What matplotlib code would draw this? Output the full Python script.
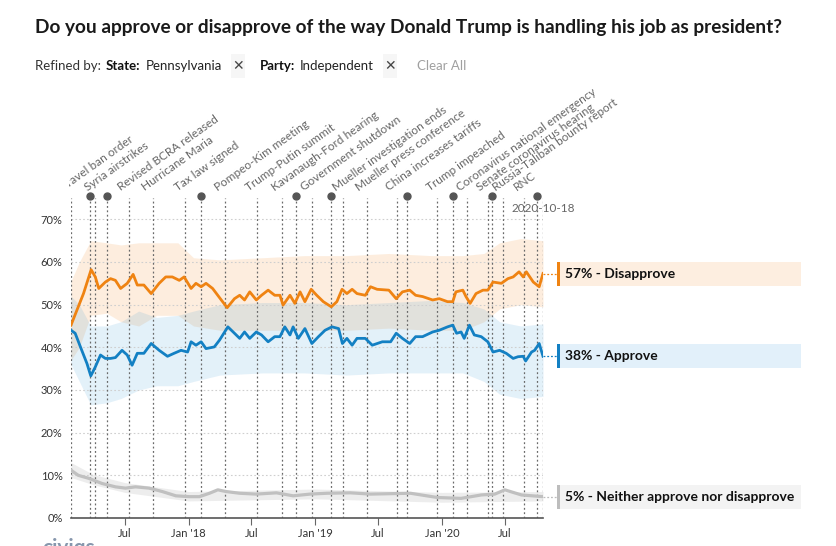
import matplotlib
matplotlib.use("Agg")
import matplotlib.pyplot as plt
import pandas as pd
from matplotlib.patches import Rectangle
from matplotlib.transforms import Bbox

# ---- data ----
dis_dates = ["2017-01-27", "2017-02-13", "2017-03-04", "2017-03-26", "2017-04-07", "2017-04-17",
             "2017-05-06", "2017-05-21", "2017-06-04", "2017-06-19", "2017-07-08", "2017-07-25",
             "2017-08-06", "2017-08-25", "2017-09-15", "2017-10-08", "2017-10-27", "2017-11-15",
             "2017-12-05", "2017-12-19", "2018-01-08", "2018-01-22", "2018-02-06", "2018-02-20",
             "2018-03-11", "2018-04-05", "2018-04-22", "2018-05-13", "2018-05-28", "2018-06-11",
             "2018-06-26", "2018-07-15", "2018-07-30", "2018-08-18", "2018-09-06", "2018-09-21",
             "2018-09-30", "2018-10-20", "2018-11-03", "2018-11-18", "2018-12-02", "2018-12-20",
             "2019-01-05", "2019-01-24", "2019-02-16", "2019-03-04", "2019-03-19", "2019-04-02",
             "2019-04-17", "2019-05-01", "2019-05-25", "2019-06-09", "2019-06-28", "2019-08-01",
             "2019-08-22", "2019-09-09", "2019-09-30", "2019-10-17", "2019-11-06", "2019-12-05",
             "2019-12-24", "2020-01-17", "2020-02-01", "2020-02-10", "2020-03-01", "2020-03-10",
             "2020-03-22", "2020-04-08", "2020-04-28", "2020-05-12", "2020-05-27", "2020-06-20",
             "2020-07-09", "2020-07-24", "2020-08-10", "2020-08-22", "2020-08-31", "2020-09-20",
             "2020-10-07", "2020-10-18"]
dis_vals = [45.2, 48.7, 52.6, 58.2, 56.5, 53.8, 55.3, 56.1, 55.7, 53.8, 55.0, 57.1,
            54.6, 54.6, 52.6, 55.0, 56.5, 56.5, 55.7, 56.5, 53.8, 55.0, 54.2, 55.0,
            53.8, 51.1, 49.3, 51.4, 52.2, 51.1, 53.0, 51.1, 52.2, 53.4, 52.2, 52.2,
            49.9, 52.2, 50.3, 53.0, 50.7, 53.6, 52.2, 50.7, 49.5, 50.7, 53.6, 52.6,
            53.6, 52.6, 52.2, 54.2, 53.6, 53.4, 51.4, 53.0, 53.4, 52.2, 51.9, 51.1,
            51.4, 50.7, 50.7, 53.0, 53.4, 51.9, 50.3, 52.6, 53.4, 53.4, 55.3, 55.0,
            56.1, 56.5, 57.7, 56.5, 57.7, 55.3, 54.2, 57.3]

app_dates = ["2017-01-27", "2017-02-08", "2017-02-27", "2017-03-14", "2017-03-25", "2017-04-07",
             "2017-04-22", "2017-05-06", "2017-05-21", "2017-06-04", "2017-06-23", "2017-07-08",
             "2017-07-22", "2017-08-06", "2017-08-25", "2017-09-15", "2017-10-08", "2017-11-01",
             "2017-11-20", "2017-12-10", "2017-12-29", "2018-01-08", "2018-01-22", "2018-02-06",
             "2018-02-20", "2018-03-16", "2018-03-31", "2018-04-24", "2018-05-13", "2018-05-28",
             "2018-06-11", "2018-06-26", "2018-07-15", "2018-07-30", "2018-08-18", "2018-09-06",
             "2018-09-21", "2018-10-05", "2018-10-20", "2018-10-29", "2018-11-13", "2018-12-02",
             "2018-12-22", "2019-01-10", "2019-01-29", "2019-02-18", "2019-03-09", "2019-03-20",
             "2019-04-02", "2019-04-17", "2019-05-01", "2019-05-25", "2019-06-14", "2019-07-13",
             "2019-08-06", "2019-08-22", "2019-09-09", "2019-09-30", "2019-10-17", "2019-11-06",
             "2019-12-05", "2019-12-24", "2020-01-17", "2020-02-01", "2020-02-12", "2020-02-25",
             "2020-03-05", "2020-03-20", "2020-04-03", "2020-04-23", "2020-05-12", "2020-05-27",
             "2020-06-15", "2020-07-04", "2020-07-24", "2020-08-07", "2020-08-22", "2020-08-29",
             "2020-09-15", "2020-09-24", "2020-10-07", "2020-10-18"]
app_vals = [44.0, 43.3, 39.3, 36.2, 33.3, 35.4, 38.2, 37.4, 37.4, 37.6, 39.3, 38.2,
            35.8, 38.6, 38.6, 40.9, 39.3, 37.9, 38.6, 39.3, 38.9, 41.3, 40.5, 41.3,
            39.7, 40.1, 41.7, 44.8, 43.3, 42.1, 43.6, 42.1, 43.6, 42.9, 41.3, 42.5,
            42.5, 44.8, 42.9, 44.8, 42.1, 44.4, 40.9, 42.5, 44.0, 44.8, 44.4, 40.9,
            42.1, 40.5, 42.1, 42.1, 40.5, 41.3, 41.3, 43.3, 42.1, 40.9, 42.5, 42.5,
            43.6, 44.0, 44.8, 45.2, 43.3, 43.6, 42.1, 45.2, 42.9, 42.5, 41.3, 38.9,
            39.3, 38.6, 37.4, 37.8, 37.9, 36.8, 38.9, 39.3, 40.9, 37.9]

nei_dates = ["2017-01-27", "2017-02-17", "2017-03-19", "2017-04-26", "2017-06-04", "2017-07-03",
             "2017-08-01", "2017-09-09", "2017-10-17", "2017-11-25", "2018-01-03", "2018-02-01",
             "2018-03-02", "2018-03-26", "2018-04-19", "2018-05-28", "2018-07-15", "2018-09-11",
             "2018-10-29", "2018-12-17", "2019-02-03", "2019-04-12", "2019-06-09", "2019-10-02",
             "2019-12-19", "2020-02-25", "2020-04-23", "2020-06-01", "2020-06-30", "2020-08-17",
             "2020-10-18"]
nei_vals = [11.2, 10.0, 9.3, 8.1, 7.3, 7.0, 7.3, 7.0, 6.2, 5.2, 5.0, 5.0,
            5.8, 6.6, 6.2, 5.8, 5.6, 5.9, 5.2, 5.6, 5.8, 5.9, 5.6, 5.8,
            4.8, 4.6, 5.4, 5.6, 6.6, 5.4, 5.0]

# uncertainty bands (sparse reading of the shaded edges)
band_dates = ["2017-01-27", "2017-02-20", "2017-03-25", "2017-05-10", "2017-06-20", "2017-08-10",
              "2017-10-01", "2017-12-01", "2018-01-15", "2018-04-01", "2018-08-01", "2018-12-01",
              "2019-04-01", "2019-08-01", "2019-12-01", "2020-03-01", "2020-05-01", "2020-06-15",
              "2020-08-15", "2020-10-18"]
dis_hi = [55.5, 60.0, 65.0, 64.5, 64.0, 64.5, 64.5, 64.5, 61.0, 60.5, 61.0, 61.5,
          61.5, 62.0, 61.5, 61.5, 62.0, 64.5, 65.5, 65.0]
dis_lo = [37.0, 40.0, 47.5, 48.0, 46.0, 45.0, 47.5, 47.5, 45.0, 44.0, 44.0, 44.0,
          44.0, 44.5, 44.0, 44.0, 46.0, 49.0, 50.0, 49.5]
app_hi = [52.0, 50.0, 45.0, 45.0, 46.0, 48.5, 47.0, 47.5, 48.5, 50.0, 50.5, 50.5,
          50.0, 50.5, 51.0, 50.5, 49.0, 46.0, 45.0, 45.5]
app_lo = [36.0, 32.0, 26.5, 27.0, 28.0, 30.0, 31.0, 31.0, 32.0, 33.5, 34.0, 34.0,
          33.5, 34.0, 34.0, 34.0, 32.0, 29.0, 28.0, 28.5]
nei_band_dates = ["2017-01-27", "2017-04-01", "2017-07-01", "2018-01-01", "2019-01-01",
                  "2020-01-01", "2020-10-18"]
nei_hi = [13.0, 10.2, 8.3, 6.2, 6.8, 6.0, 6.2]
nei_lo = [9.5, 7.8, 6.0, 4.0, 4.5, 3.7, 4.0]

event_dates = ["2017-01-27", "2017-04-07", "2017-07-13", "2017-09-20", "2017-12-22", "2018-04-17",
               "2018-07-16", "2018-09-27", "2018-12-22", "2019-03-22", "2019-05-29", "2019-08-23",
               "2019-12-18", "2020-03-13", "2020-05-12", "2020-06-26", "2020-08-24"]
event_labels = ["Travel ban order", "Syria airstrikes", "Revised BCRA released", "Hurricane Maria",
                "Tax law signed", "Pompeo-Kim meeting", "Trump-Putin summit", "Kavanaugh-Ford hearing",
                "Government shutdown", "Mueller investigation ends", "Mueller press conference",
                "China increases tariffs", "Trump impeached", "Coronavirus national emergency",
                "Senate coronavirus hearing", "Russia-Taliban bounty report", "RNC"]
dot_dates = ["2017-03-24", "2017-05-10", "2018-02-05", "2018-11-05", "2019-02-14",
             "2019-09-22", "2020-02-03", "2020-05-23", "2020-09-30"]
end_date = "2020-10-18"

xtick_dates = ["2017-07-01", "2018-01-01", "2018-07-01", "2019-01-01", "2019-07-01",
               "2020-01-01", "2020-07-01"]
xtick_labels = ["Jul", "Jan '18", "Jul", "Jan '19", "Jul", "Jan '20", "Jul"]
yticks = [0, 10, 20, 30, 40, 50, 60, 70]

ORANGE = "#ef8312"
BLUE = "#1380c3"
GREY = "#c0c0c0"
FONT = ["Lato", "DejaVu Sans"]
plt.rcParams["font.family"] = FONT

fig = plt.figure(figsize=(8.37, 5.46), dpi=100)
W, H = 837, 546
ax = fig.add_axes([71 / W, 28 / H, 472 / W, 320 / H])

bd = pd.to_datetime(band_dates)
ax.fill_between(bd, dis_lo, dis_hi, color="#f28c28", alpha=0.15, lw=0, zorder=1)
ax.fill_between(bd, app_lo, app_hi, color="#1e8cd2", alpha=0.12, lw=0, zorder=1)
ax.fill_between(pd.to_datetime(nei_band_dates), nei_lo, nei_hi, color="#d8d8d8", alpha=0.45, lw=0, zorder=1)

for y in yticks[1:]:
    ax.axhline(y, color="#cfcfcf", lw=0.8, ls=(0, (1.5, 2)), zorder=2)

for d in event_dates + dot_dates + [end_date]:
    ax.axvline(pd.Timestamp(d), color="#6a6a6a", lw=0.9, ls=(0, (1.5, 2)), zorder=2)

ax.plot(pd.to_datetime(nei_dates), nei_vals, color=GREY, lw=2.3, zorder=4, solid_capstyle="round")
ax.plot(pd.to_datetime(dis_dates), dis_vals, color=ORANGE, lw=2.0, zorder=5, solid_joinstyle="round")
ax.plot(pd.to_datetime(app_dates), app_vals, color=BLUE, lw=2.0, zorder=5, solid_joinstyle="round")

ax.plot(pd.to_datetime(dot_dates), [1.006] * len(dot_dates), "o",
        color="#555555", ms=5, transform=ax.get_xaxis_transform(), clip_on=False, zorder=6)

clip = Bbox.from_extents(69, 0, W, H)
for d, lab in zip(event_dates, event_labels):
    t = ax.annotate(lab, xy=(pd.Timestamp(d), 1.0), xycoords=("data", "axes fraction"),
                    xytext=(-7.5, 7), textcoords="offset pixels", rotation=35.5,
                    rotation_mode="anchor", ha="left", va="baseline", fontsize=8.5,
                    color="#666666", annotation_clip=False)
    t.set_clip_box(clip)
    t.set_clip_on(True)

ax.text(pd.Timestamp(end_date), 0.968, end_date, transform=ax.get_xaxis_transform(),
        ha="center", va="center", fontsize=8.5, color="#666666", zorder=7)

ax.set_xlim(pd.Timestamp("2017-01-27"), pd.Timestamp(end_date))
ax.set_ylim(0, 75)
ax.set_yticks(yticks)
ax.set_yticklabels([f"{v}%" for v in yticks])
ax.set_xticks(pd.to_datetime(xtick_dates))
ax.set_xticklabels(xtick_labels)
ax.tick_params(axis="y", length=0, pad=6, labelsize=8, labelcolor="#333333")
ax.tick_params(axis="x", length=5, width=0.8, color="#666666", pad=2, labelsize=8, labelcolor="#333333")
for s in ["top", "right", "left"]:
    ax.spines[s].set_visible(False)
ax.spines["bottom"].set_color("#555555")
ax.spines["bottom"].set_linewidth(1.2)

# end labels on the right
yt = ax.get_yaxis_transform()
x0 = (557 - 71) / 472
bw = (801 - 557) / 472
bh = 24 / (320 / 75)
ends = [(dis_vals[-1], "Disapprove", ORANGE, "#fdeee0"),
        (app_vals[-1], "Approve", BLUE, "#e2f0fa"),
        (nei_vals[-1], "Neither approve nor disapprove", "#bdbdbd", "#f3f3f3")]
for v, name, c, bg in ends:
    ax.plot([1.0, x0], [v, v], transform=yt, color=c, lw=0.9, ls=(0, (1.5, 1.5)), clip_on=False)
    ax.add_patch(Rectangle((x0, v - bh / 2), bw, bh, transform=yt, facecolor=bg, edgecolor="none",
                           clip_on=False))
    ax.add_patch(Rectangle((x0, v - bh / 2), 3 / 472, bh, transform=yt, facecolor=c, edgecolor="none",
                           clip_on=False))
    ax.text(x0 + 8 / 472, v, f"{v:.0f}% - {name}", transform=yt, va="center", ha="left",
            fontsize=10, fontweight="bold", color="#111111")

# header
fig.text(35 / W, 1 - 28 / H, "Do you approve or disapprove of the way Donald Trump is handling his job as president?",
         fontsize=13.65, fontweight="bold", color="#1a1a1a", va="center", ha="left")
sub_y = 1 - 66 / H
pieces = [("Refined by:", 35, "normal", "#333333"), ("State:", 106, "bold", "#111111"),
          ("Pennsylvania", 146, "normal", "#222222"), ("Party:", 260, "bold", "#111111"),
          ("Independent", 300, "normal", "#222222"), ("Clear All", 417, "normal", "#a0a0a0")]
for txt, px, fw, c in pieces:
    fig.text(px / W, sub_y, txt, fontsize=9.5, fontweight=fw, color=c, va="center", ha="left")
for px in [238.5, 390.5]:
    fig.patches.append(Rectangle(((px - 7) / W, sub_y - 12 / H), 14 / W, 24 / H, transform=fig.transFigure,
                                 facecolor="#f6f6f6", edgecolor="none"))
    fig.text(px / W, sub_y, "\u2715", fontsize=10, color="#444444", va="center", ha="center",
             family=["DejaVu Sans"])

fig.text(42 / W, -8 / H, "civiqs", fontsize=15, fontweight="bold", color="#8797ad", va="baseline", ha="left")

fig.savefig("out.png", dpi=100, facecolor="white")
